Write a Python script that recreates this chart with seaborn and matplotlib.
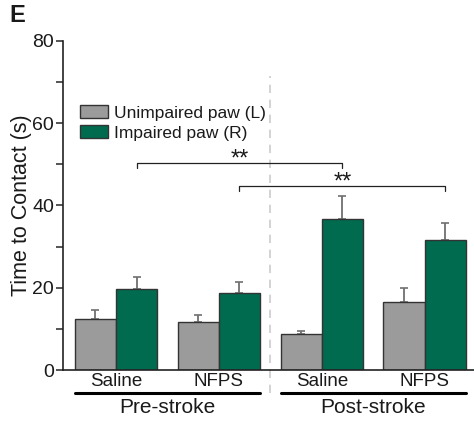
import numpy as np
import pandas as pd
import matplotlib as mpl
import matplotlib.pyplot as plt
import seaborn as sns

mpl.use('Agg')

# data
conditions = ['Pre Saline', 'Pre NFPS', 'Post Saline', 'Post NFPS']
tick_labels = ['Saline', 'NFPS', 'Saline', 'NFPS']
paws = ['Unimpaired paw (L)', 'Impaired paw (R)']
unimpaired_mean = [12.3, 11.6, 8.7, 16.6]
unimpaired_err = [2.3, 1.8, 0.8, 3.4]
impaired_mean = [19.7, 18.8, 36.7, 31.5]
impaired_err = [2.8, 2.5, 5.5, 4.3]
groups = ['Pre-stroke', 'Post-stroke']
# significance brackets: (from condition, to condition, height)
brackets = [(0, 2, 50.4), (1, 3, 44.8)]

sns.set_style('ticks')
plt.rcParams['font.family'] = ['Liberation Sans', 'DejaVu Sans']
plt.rcParams['text.color'] = '#1a1a1a'
plt.rcParams['axes.labelcolor'] = '#1a1a1a'
plt.rcParams['ytick.labelcolor'] = '#1a1a1a'
plt.rcParams['xtick.labelcolor'] = '#1a1a1a'

df = pd.DataFrame({
    'condition': conditions * 2,
    'paw': [paws[0]] * 4 + [paws[1]] * 4,
    'time': unimpaired_mean + impaired_mean,
})
errs = [unimpaired_err, impaired_err]

fig = plt.figure(figsize=(4.74, 4.21), dpi=100)
ax = fig.add_axes([0.132, 0.121, 0.868, 0.782])

sns.barplot(data=df, x='condition', y='time', hue='paw', order=conditions,
            hue_order=paws, palette=['#9b9b9b', '#006b4f'], saturation=1,
            width=0.8, edgecolor='#333333', linewidth=1.0, errorbar=None,
            ax=ax, zorder=2)

# upper error bars only
for cont, e in zip(ax.containers, errs):
    xs = [p.get_x() + p.get_width() / 2 for p in cont]
    ys = [p.get_height() for p in cont]
    ax.errorbar(xs, ys, yerr=[np.zeros(len(e)), e], fmt='none',
                ecolor='#707070', elinewidth=1.3, capsize=3, capthick=1.2,
                zorder=1)

impaired_x = [p.get_x() + p.get_width() / 2 for p in ax.containers[1]]
for a, b, h in brackets:
    ax.plot([impaired_x[a], impaired_x[a], impaired_x[b], impaired_x[b]],
            [h - 1.2, h, h, h - 1.2], color='#222222', lw=0.9)
    ax.text((impaired_x[a] + impaired_x[b]) / 2, h - 2.0, '**',
            ha='center', va='bottom', fontsize=17)

ax.axvline(1.5, ymin=-0.07, ymax=0.894, color='#cccccc', lw=1.2,
           ls=(0, (5, 4)), clip_on=False, zorder=0)

ax.set_xlim(-0.52, 3.48)
ax.set_ylim(0, 80)
ax.set_yticks([0, 20, 40, 60, 80])
ax.set_yticks([10, 30, 50, 70], minor=True)
ax.tick_params(axis='y', which='both', direction='out', length=5,
               width=1.1, labelsize=14, pad=1)
ax.tick_params(axis='x', length=0, labelsize=13.5, pad=2)
ax.set_xticks(range(4))
ax.set_xticklabels(tick_labels)
ax.set_xlabel('')
ax.set_ylabel('Time to Contact (s)', fontsize=15.5, labelpad=0)
sns.despine(ax=ax)
for s in ['left', 'bottom']:
    ax.spines[s].set_linewidth(1.2)
    ax.spines[s].set_color('#222222')

trans = ax.get_xaxis_transform()
for i, g in enumerate(groups):
    x0, x1 = 2 * i - 0.4, 2 * i + 1.4
    ax.plot([x0, x1], [-0.07, -0.07], color='black', lw=2.2,
            transform=trans, clip_on=False)
    ax.text((x0 + x1) / 2, -0.113, g, transform=trans, ha='center',
            va='center', fontsize=15)

ax.legend(loc='upper left', bbox_to_anchor=(0.025, 0.825), frameon=False,
          fontsize=12.5, handlelength=1.6, handleheight=0.75,
          handletextpad=0.35, labelspacing=0.27, borderaxespad=0)

fig.text(0.02, 0.962, 'E', fontsize=17, fontweight='bold', va='center')

plt.savefig('out.png', dpi=100)
